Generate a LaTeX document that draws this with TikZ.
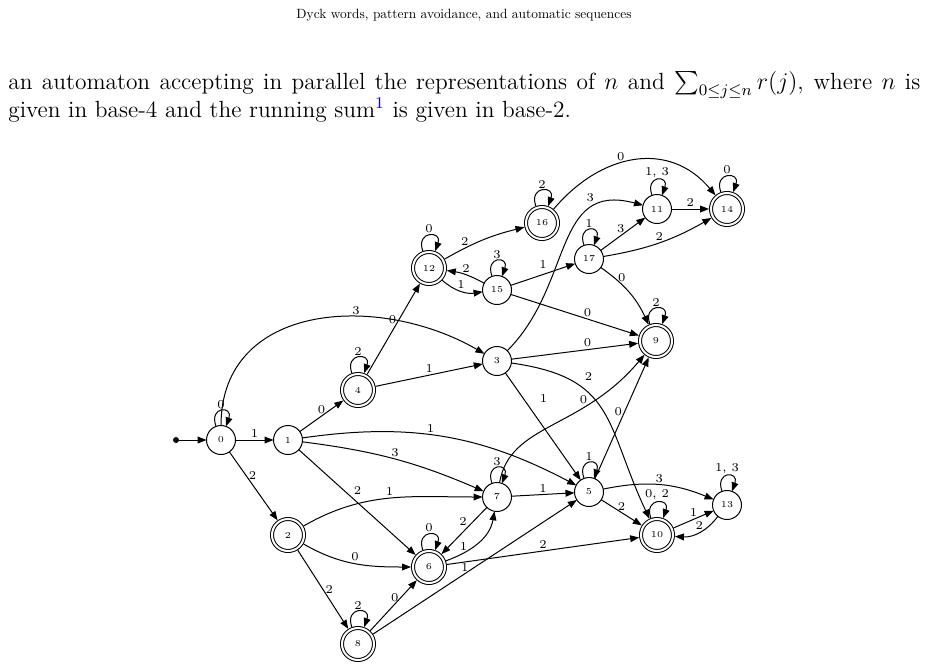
\documentclass[tikz,border=0pt]{standalone}
\usepackage{amsmath, amssymb}
\usepackage{xcolor}
\usepackage{tikz}
\usepackage{tkz-graph}
\usetikzlibrary{arrows.meta}

\begin{document}
\begin{tikzpicture}[x=0.5pt,y=0.5pt]
\useasboundingbox (0,0) rectangle (928,-670);
\GraphInit[vstyle=Normal]
\tikzset{VertexStyle/.style={draw, circle, line width=0.5pt, minimum size=14.5pt,
  inner sep=0pt, font=\fontsize{4.5}{5}\selectfont}}
\tikzset{AccStyle/.style={VertexStyle/.append style={double, double distance=1pt,
  minimum size=16pt, outer sep=1pt}}}
\tikzset{EdgeStyle/.style={draw, -{Triangle[length=4.5pt,width=3.4pt]}, line width=0.5pt}}
\tikzset{LabelStyle/.style={font=\fontsize{6}{6}\selectfont, inner sep=1pt,
  fill opacity=0, text opacity=1}}
\tikzset{TextStyle/.style={anchor=base west, inner sep=0pt, font=\fontsize{11.7}{14}\selectfont}}
\tikzset{every loop/.style={min distance=11pt, looseness=1}}
\tikzset{LoopStyle/.style={out=110, in=70, loop}}

\node (head) at (464,-15)
  {\scalebox{0.67}{Dyck words, pattern avoidance, and automatic sequences}};
\node[TextStyle] (line1) at (8,-89)
  {\hbox to 456pt{an automaton accepting in parallel the representations of $n$ and
   $\sum_{0\le j\le n} r(j)$, where $n$ is}};
\node[TextStyle] (line2) at (8,-117)
  {given in base-4 and the running sum\textsuperscript{\textcolor{blue}{1}} is given in base-2.};

\node[fill, circle, inner sep=0pt, minimum size=3pt] (start) at (176,-440) {};
\Vertex[x=221,y=-440,L=0]{v0}
\Vertex[x=288,y=-440,L=1]{v1}
\Vertex[x=497,y=-361,L=3]{v3}
\Vertex[x=497,y=-290,L=15]{v15}
\Vertex[x=497,y=-497,L=7]{v7}
\Vertex[x=589,y=-259,L=17]{v17}
\Vertex[x=589,y=-492,L=5]{v5}
\Vertex[x=657,y=-209,L=11]{v11}
\Vertex[x=727,y=-505,L=13]{v13}
\begin{scope}[AccStyle]
\Vertex[x=288,y=-535,L=2]{v2}
\Vertex[x=358,y=-390,L=4]{v4}
\Vertex[x=358,y=-644,L=8]{v8}
\Vertex[x=429,y=-268,L=12]{v12}
\Vertex[x=429,y=-567,L=6]{v6}
\Vertex[x=542,y=-223,L=16]{v16}
\Vertex[x=656,y=-341,L=9]{v9}
\Vertex[x=657,y=-535,L=10]{v10}
\Vertex[x=727,y=-209,L=14]{v14}
\end{scope}

\Edge(start)(v0)
\Edge[label=1, labelstyle={above}](v0)(v1)
\Edge[label=2, labelstyle={pos=.35, right}](v0)(v2)
\Edge[label=3, labelstyle={pos=.63, above}, style={out=90, in=150, looseness=1.15}](v0)(v3)
\Edge[label=0, labelstyle={above}](v1)(v4)
\Edge[label=1, labelstyle={pos=.45, above}, style={bend left=18}](v1)(v5)
\Edge[label=3, labelstyle={above}, style={bend left=8}](v1)(v7)
\Edge[label=2, labelstyle={pos=.45, above right}](v1)(v6)
\Edge[label=1, labelstyle={above}, style={out=30, in=180}](v2)(v7)
\Edge[label=0, labelstyle={above}, style={out=-30, in=180}](v2)(v6)
\Edge[label=2, labelstyle={right, inner sep=0pt}](v2)(v8)
\Edge[label=1, labelstyle={above}](v4)(v3)
\Edge[label=0, labelstyle={pos=.6, left}](v4)(v12)
\Edge[label=3, labelstyle={pos=.73, above, yshift=3pt}, style={out=45, in=165, looseness=1.2}](v3)(v11)
\Edge[label=0, labelstyle={pos=.6, above}](v3)(v9)
\Edge[label=2, labelstyle={pos=.37, above, yshift=5pt}, style={out=-8, in=115, looseness=1.3}](v3)(v10)
\Edge[label=1, labelstyle={pos=.24, right, xshift=7pt}](v3)(v5)
\Edge[label=2, labelstyle={pos=.25, above}, style={bend left=8}](v12)(v16)
\Edge[label=1, labelstyle={above}, style={bend right=25}](v12)(v15)
\Edge[label=2, labelstyle={above}, style={bend right=10}](v15)(v12)
\Edge[label=1, labelstyle={above, yshift=2pt}](v15)(v17)
\Edge[label=0, labelstyle={pos=.6, above}](v15)(v9)
\Edge[label=0, labelstyle={pos=.42, above}, style={out=50, in=130, looseness=1.15}](v16)(v14)
\Edge[label=3, labelstyle={pos=.45, above}](v17)(v11)
\Edge[label=2, labelstyle={above}, style={bend right=10}](v17)(v14)
\Edge[label=0, labelstyle={pos=.35, above}, style={bend left=15}](v17)(v9)
\Edge[label=2, labelstyle={above}](v11)(v14)
\Edge[label=0, labelstyle={pos=.68, above}, style={out=80, in=-130, out looseness=.8, in looseness=1.3}](v7)(v9)
\Edge[label=0, labelstyle={pos=.55, left}](v5)(v9)
\Edge[label=1, labelstyle={above}](v7)(v5)
\Edge[label=2, labelstyle={pos=.3, left, xshift=-2pt}](v7)(v6)
\Edge[label=1, labelstyle={pos=.25, above}, style={out=20, in=-100}](v6)(v7)
\Edge[label=2, labelstyle={above}](v6)(v10)
\Edge[label=0, labelstyle={pos=.66, left}](v8)(v6)
\Edge[label=1, labelstyle={pos=.45, above}](v8)(v5)
\Edge[label=3, labelstyle={above}, style={bend left=17}](v5)(v13)
\Edge[label=2, labelstyle={above}](v5)(v10)
\Edge[label=1, labelstyle={above}](v10)(v13)
\Edge[label=2, labelstyle={above}, style={bend left=28}](v13)(v10)
% self loops
\Edge[label=0, labelstyle={above}, style={LoopStyle}](v0)(v0)
\Edge[label=2, labelstyle={above}, style={LoopStyle}](v4)(v4)
\Edge[label=0, labelstyle={above}, style={LoopStyle}](v12)(v12)
\Edge[label=3, labelstyle={above}, style={LoopStyle}](v15)(v15)
\Edge[label=2, labelstyle={above}, style={LoopStyle}](v16)(v16)
\Edge[label=1, labelstyle={above}, style={LoopStyle}](v17)(v17)
\Edge[label={1, 3}, labelstyle={above}, style={LoopStyle}](v11)(v11)
\Edge[label=0, labelstyle={above}, style={LoopStyle}](v14)(v14)
\Edge[label=2, labelstyle={above}, style={LoopStyle}](v9)(v9)
\Edge[label=3, labelstyle={above}, style={LoopStyle}](v7)(v7)
\Edge[label=1, labelstyle={above}, style={LoopStyle}](v5)(v5)
\Edge[label=0, labelstyle={above}, style={LoopStyle}](v6)(v6)
\Edge[label=2, labelstyle={above}, style={LoopStyle}](v8)(v8)
\Edge[label={0, 2}, labelstyle={above}, style={LoopStyle}](v10)(v10)
\Edge[label={1, 3}, labelstyle={above}, style={LoopStyle}](v13)(v13)
\end{tikzpicture}
\end{document}
